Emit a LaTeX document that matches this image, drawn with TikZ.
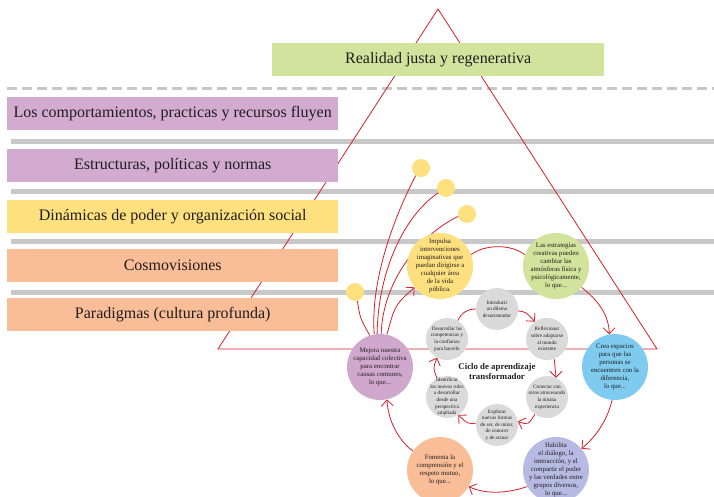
\documentclass[tikz,border=0pt]{standalone}
\usepackage{fontspec}
\setmainfont{Liberation Serif}
\usetikzlibrary{arrows.meta}
\definecolor{redl}{HTML}{D42027}
\definecolor{barc}{HTML}{C8C8C8}
\definecolor{greenbox}{HTML}{D1E39C}
\definecolor{purplebox}{HTML}{D3ABD0}
\definecolor{yellowbox}{HTML}{FFE07F}
\definecolor{orangebox}{HTML}{F9BD97}
\definecolor{purplec}{HTML}{D0A8CE}
\definecolor{yellowc}{HTML}{FFE07F}
\definecolor{greenc}{HTML}{D2E39B}
\definecolor{bluec}{HTML}{7FCBEF}
\definecolor{lavc}{HTML}{B7BAE2}
\definecolor{orangec}{HTML}{F9BD97}
\definecolor{grayc}{HTML}{DADADA}
\definecolor{txt}{HTML}{1E1E1E}
\pgfdeclarelayer{back}
\pgfdeclarelayer{conn}
\pgfsetlayers{back,conn,main}
\begin{document}
\begin{tikzpicture}[x=1pt,y=-1pt,
  box/.style={rectangle, minimum width=331pt, minimum height=33pt, anchor=north west, inner sep=0pt, font=\fontsize{16}{19}\selectfont, text=txt},
  bigc/.style={circle, minimum size=66pt, inner sep=0pt},
  bigt/.style={align=center, inner sep=0pt, font=\fontsize{6.8}{7.9}\selectfont, text=txt},
  smallc/.style={circle, fill=grayc, minimum size=42pt, inner sep=0pt},
  smallt/.style={align=center, inner sep=0pt, font=\fontsize{5.2}{6.6}\selectfont, text=txt},
  dotc/.style={circle, fill=yellowc, minimum size=18pt, inner sep=0pt},
  conn/.style={draw=redl, line width=0.8pt},
  arr/.style={conn, -{Straight Barb[length=6pt,width=12pt,line width=0.8pt]}},
]
\useasboundingbox (0,0) rectangle (714,496);
\begin{pgfonlayer}{back}
  \draw[barc, line width=3pt, dash pattern=on 10pt off 5pt] (7,88) -- (714,88);
  \foreach \yy in {141,191,241,292} \fill[barc] (11,\yy-2.5) rectangle (714,\yy+2.5);
  \draw[redl, line width=0.8pt] (438,9) -- (218,349) -- (657,349) -- cycle;
\end{pgfonlayer}

% level boxes
\node[box, fill=greenbox, minimum width=332pt] (top) at (272,43) {Realidad justa y regenerativa};
\node[box, fill=purplebox] (b1) at (7,97) {Los comportamientos, practicas y recursos fluyen};
\node[box, fill=purplebox] (b2) at (7,149) {Estructuras, políticas y normas};
\node[box, fill=yellowbox] (b3) at (7,200) {Dinámicas de poder y organización social};
\node[box, fill=orangebox] (b4) at (7,249) {Cosmovisiones};
\node[box, fill=orangebox] (b5) at (7,298) {Paradigmas (cultura profunda)};

% outer ring
\node[bigc, fill=purplec] (P) at (380,367) {};
\node[bigt] (Pt) at (P) {Mejora nuestra\\capacidad colectiva\\para encontrar\\causas comunes,\\lo que...};
\node[bigc, fill=yellowc] (Y) at (440,266) {};
\node[bigt] (Yt) at (Y) {Impulsa\\intervenciones\\imaginativas que\\puedan dirigirse a\\cualquier área\\de la vida\\pública.};
\node[bigc, fill=greenc] (G) at (556,266) {};
\node[bigt] (Gt) at (G) {Las estrategias\\creativas pueden\\cambiar las\\atmósferas física y\\psicológicamente,\\lo que...};
\node[bigc, fill=bluec] (B) at (615,367) {};
\node[bigt] (Bt) at (B) {Crea espacios\\para que las\\personas se\\encuentren con la\\diferencia,\\lo que...};
\node[bigc, fill=lavc] (L) at (556,470) {};
\node[bigt] (Lt) at (L) {Habilita\\el diálogo, la\\interacción, y el\\compartir el poder\\y las verdades entre\\grupos diversos,\\lo que...};
\node[bigc, fill=orangec] (O) at (440,470) {};
\node[bigt] (Ot) at (O) {Fomenta la\\comprensión y el\\respeto mutuo,\\lo que...};

% inner cycle
\node[smallc] (I) at (497,309) {};
\node[smallt] (It) at (I) {Introducir\\un dilema\\desorientador};
\node[smallc] (R) at (547,339) {};
\node[smallt] (Rt) at (R) {Reflexionar\\sobre adaptarse\\al mundo\\existente};
\node[smallc] (C) at (547,397) {};
\node[smallt] (Ct) at (C) {Conectar con\\otros atravesando\\la misma\\experiencia};
\node[smallc] (E) at (497,425) {};
\node[smallt] (Et) at (E) {Explorar\\nuevas formas\\de ser, de mirar,\\de conocer\\y de actuar};
\node[smallc] (Id) at (447,397) {};
\node[smallt] (Idt) at (Id) {Identificar\\los nuevos roles\\a desarrollar\\desde una\\perspectiva\\ampliada};
\node[smallc] (D) at (447,339) {};
\node[smallt] (Dt) at (D) {Desarrollar las\\competencias y\\la confianza\\para hacerlo};
\node[align=center, inner sep=0pt, font=\bfseries\fontsize{8.8}{10}\selectfont, text=txt] (cyc) at (497,371) {Ciclo de aprendizaje\\transformador};

% yellow dots
\node[dotc] (dA) at (421,168) {};
\node[dotc] (dB) at (446,188) {};
\node[dotc] (dC) at (467,214) {};
\node[dotc] (dD) at (355,292) {};

\begin{pgfonlayer}{conn}
  \draw[conn] (dA.235) .. controls (395,215) and (370,280) .. (P.100);
  \draw[conn] (dB.212) .. controls (405,215) and (378,270) .. (P.95);
  \draw[conn] (dC.195) .. controls (420,235) and (383,280) .. (P.88);
  \draw[conn] (dD.-75) .. controls (360,318) .. (P.108);
  \draw[arr] (P.78) .. controls (395,305) .. (Y.220);
  \draw[conn] (Y.20) .. controls (485,244) and (511,244) .. (G.160);
  \draw[arr] (G.-40) .. controls (598,300) and (609,315) .. (B.100);
  \draw[arr] (B.-95) .. controls (606,425) and (592,440) .. (L.40);
  \draw[arr] (L.210) .. controls (505,494) and (485,494) .. (O.-30);
  \draw[arr] (O.145) .. controls (398,440) and (388,420) .. (P.-78);
  \draw[conn] (D.60) .. controls (462,312) and (468,309) .. (I.180);
  \draw[arr] (I.-5) .. controls (526,312) .. (R.125);
  \draw[arr] (R.-70) .. controls (556,368) .. (C.65);
  \draw[arr] (C.235) .. controls (528,425) .. (E.10);
  \draw[arr] (E.175) .. controls (468,424) .. (Id.-58);
  \draw[arr] (Id.118) .. controls (433,368) .. (D.-118);
\end{pgfonlayer}
\end{tikzpicture}
\end{document}
